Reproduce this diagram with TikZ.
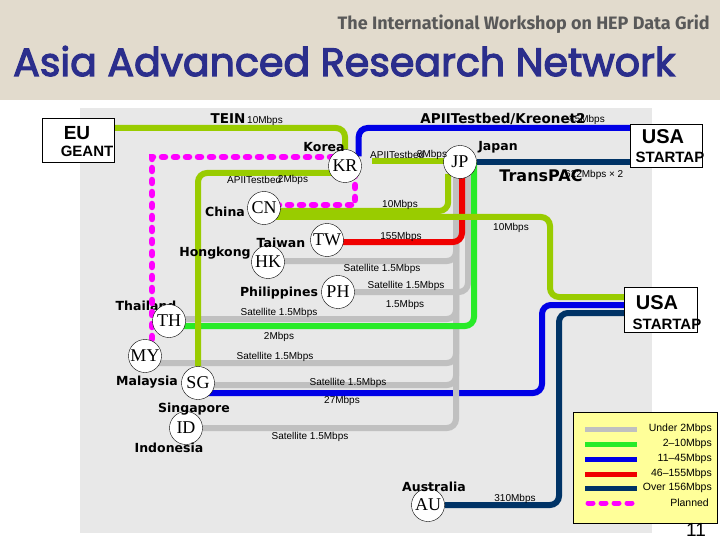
\documentclass[tikz,border=0pt]{standalone}
\usepackage{fontspec}
\setmainfont{Liberation Sans}
\newfontfamily\cntfont{DejaVu Sans}
\newfontfamily\cirfont{Liberation Serif}
\newfontfamily\ttlfont[FakeBold=3]{Poppins}
\newfontfamily\subfont{Fira Sans}
\usepackage{graphicx}
\usetikzlibrary{backgrounds}
\newcommand{\sz}[1]{\fontsize{#1}{#1}\selectfont}
\definecolor{yg}{RGB}{153,204,0}
\definecolor{lg}{RGB}{40,235,40}
\definecolor{bl}{RGB}{0,0,230}
\definecolor{rd}{RGB}{240,0,0}
\definecolor{nv}{RGB}{0,51,102}
\definecolor{gr}{RGB}{192,192,192}
\definecolor{mg}{RGB}{255,0,255}
\definecolor{panel}{RGB}{232,232,232}
\definecolor{linen}{RGB}{226,219,205}
\definecolor{ttl}{RGB}{43,46,140}
\definecolor{legbg}{RGB}{255,255,153}

\begin{document}
\begin{tikzpicture}[x=1pt, y=-1pt,
    ctry/.style={circle, draw=black, fill=white, minimum size=33pt, inner sep=0pt,
                 font=\cirfont\sz{18}},
    cname/.style={font=\cntfont\bfseries\sz{12.5}, inner sep=0pt},
    rate/.style={font=\sz{10}, inner sep=0pt},
    hub/.style={draw=black, fill=white, inner sep=0pt},
    lnk/.style={line width=6pt, rounded corners=9pt},
    plan/.style={draw=mg, line width=6.5pt, line cap=round, dash pattern=on 3pt off 9pt},
    leg/.style={font=\sz{10.5}, inner sep=0pt, anchor=east}
  ]
  \useasboundingbox (0,0) rectangle (720,540);

  % title
  \node[font=\subfont\bfseries, text=black!65, anchor=base west, inner sep=0pt] (sub) at (337.5,30)
    {\resizebox{372pt}{!}{The International Workshop on HEP Data Grid}};
  \node[font=\ttlfont, text=ttl, anchor=base west, inner sep=0pt] (title) at (13,76)
    {\resizebox{662pt}{!}{Asia Advanced Research Network}};

  % hubs
  \node[hub, minimum width=72pt, minimum height=44pt] (eu) at (78,140) {};
  \node[font=\bfseries\sz{19}, inner sep=0pt] (eulbl) at (77,133) {EU};
  \node[font=\bfseries\sz{15}, inner sep=0pt] (geant) at (87,151) {GEANT};
  \node[hub, minimum width=72pt, minimum height=43pt] (usa1) at (666,145.5) {};
  \node[font=\bfseries\sz{20}, inner sep=0pt] (usa1lbl) at (663,137) {USA};
  \node[font=\bfseries\sz{15}, inner sep=0pt] (usa1tap) at (670,157) {STARTAP};
  \node[hub, minimum width=73pt, minimum height=45pt] (usa2) at (660.5,309.5) {};
  \node[font=\bfseries\sz{20}, inner sep=0pt] (usa2lbl) at (657,303) {USA};
  \node[font=\bfseries\sz{15}, inner sep=0pt] (usa2tap) at (667,324) {STARTAP};

  % countries
  \node[ctry] (KR) at (345,166) {KR};
  \node[ctry] (JP) at (460,162) {JP};
  \node[ctry] (CN) at (264,208) {CN};
  \node[ctry] (TW) at (327,240) {TW};
  \node[ctry] (HK) at (268,262) {HK};
  \node[ctry] (PH) at (338,292) {PH};
  \node[ctry] (TH) at (169,321) {TH};
  \node[ctry] (MY) at (145,356) {MY};
  \node[ctry] (SG) at (198,383) {SG};
  \node[ctry] (ID) at (186,428) {ID};
  \node[ctry] (AU) at (428,505) {AU};
  \coordinate (kjp) at (372,161);

  \node[cname] (korea) at (324,147) {Korea};
  \node[cname] (japan) at (498,147) {Japan};
  \node[cname] (china) at (225,212) {China};
  \node[cname] (taiwan) at (281,243) {Taiwan};
  \node[cname] (hongkong) at (215,253) {Hongkong};
  \node[cname] (philippines) at (279,293) {Philippines};
  \node[cname] (malaysia) at (147,382) {Malaysia};
  \node[cname] (singapore) at (194,409) {Singapore};
  \node[cname] (indonesia) at (169,448) {Indonesia};
  \node[cname] (australia) at (434,487) {Australia};

  % link labels
  \node[font=\cntfont\bfseries\sz{13.5}, inner sep=0pt] (tein) at (228,119) {TEIN};
  \node[rate] (teinr) at (265,121) {10Mbps};
  \node[font=\cntfont\bfseries\sz{13.5}, inner sep=0pt] (kreo) at (503,119) {APIITestbed/Kreonet2};
  \node[rate] (kreor) at (587,120) {45Mbps};
  \node[rate, anchor=west] (apii8) at (370,155) {APIITestbed};
  \node[rate] (apii8r) at (432,155) {8Mbps};
  \node[rate, anchor=west] (apii2) at (227,180) {APIITestbed};
  \node[rate] (apii2r) at (293,180) {2Mbps};
  \node[font=\cntfont\bfseries\sz{16}, inner sep=0pt] (transpac) at (541,176) {TransPAC};
  \node[rate, anchor=west] (transpacr) at (565,175) {622Mbps × 2};
  \node[rate] (cnjp) at (400,205) {10Mbps};
  \node[rate] (cnus) at (511,228) {10Mbps};
  \node[rate] (twjp) at (401,237) {155Mbps};
  \node[rate] (hkjp) at (382,269) {Satellite 1.5Mbps};
  \node[rate] (phjp) at (406,286) {Satellite 1.5Mbps};
  \node[rate] (phjp2) at (405,305) {1.5Mbps};
  \node[rate] (thjp) at (279,313) {Satellite 1.5Mbps};
  \node[rate] (thjp2) at (279,337) {2Mbps};
  \node[rate] (myjp) at (275,357) {Satellite 1.5Mbps};
  \node[rate] (sgjp) at (348,383) {Satellite 1.5Mbps};
  \node[rate] (sgus) at (342,401) {27Mbps};
  \node[rate] (idjp) at (310,437) {Satellite 1.5Mbps};
  \node[rate] (auus) at (515,499) {310Mbps};

  % legend
  \node[draw=black, fill=legbg, minimum width=144pt, minimum height=111pt, inner sep=0pt] (legend) at (645,467.5) {};
  \foreach \c/\t/\yy in {gr/Under 2Mbps/429, lg/2–10Mbps/444, bl/11–45Mbps/459,
                         rd/46–155Mbps/474, nv/Over 156Mbps/488} {
    \draw[\c, line width=5pt] (585,\yy) -- (637,\yy);
    \node[leg] at (712,\yy) {\t};
  }
  \draw[mg, line width=5pt, line cap=round, dash pattern=on 5pt off 8pt] (588,503) -- (637,503);
  \node[leg] (legplan) at (709,503) {Planned};

  \node[font=\sz{19}, inner sep=0pt] (pg) at (696,530) {11};

  \begin{scope}[on background layer]
    \fill[linen] (0,0) rectangle (720,100);
    \fill[panel] (80,108) rectangle (652,533);
    \node[cname] (thailand) at (146,306) {Thailand};
    % links
    \draw[lnk, bl] (SG.center |- 0,393) -| (542,305) -- (usa2.west |- 0,305);
    \draw[lnk, gr] (HK.center |- 0,261) -| ([xshift=-4pt]JP.center);
    \draw[lnk, gr] (PH) -| ([xshift=8pt]JP.center);
    \draw[lnk, gr] (TH.center |- 0,319) -| ([xshift=-4pt]JP.center);
    \draw[lnk, gr] (MY.center |- 0,363) -| ([xshift=-4pt]JP.center);
    \draw[lnk, gr] (SG.center |- 0,385) -| ([xshift=-4pt]JP.center);
    \draw[lnk, gr] (ID) -| ([xshift=-4pt]JP.center);
    \draw[lnk, lg] (TH.center |- 0,326) -| ([xshift=14pt]JP.center);
    \draw[lnk, rd] (TW.center |- 0,242) -| ([xshift=2pt]JP.center);
    \draw[lnk, yg] (eu.east |- 0,128) -| (KR);
    \draw[lnk, bl] (KR.35) |- (usa1.west |- 0,128);
    \draw[lnk, nv] (JP) -- (JP -| usa1.west);
    \draw[lnk, yg] (kjp) -- (kjp -| JP);
    \draw[lnk, yg] (CN.center |- 0,211) -| (JP.south west);
    \draw[lnk, yg] (CN.center |- 0,217) -| (550,297) -- (usa2.west |- 0,297);
    \draw[lnk, yg] (KR.center |- 0,173) -| (SG);
    \draw[lnk, nv] (AU) -| (559,313) -- (usa2.west |- 0,313);
    \draw[plan] (KR.center |- 0,157) -| (152,345);
    \draw[plan] (CN.center |- 0,205) -| ([xshift=10pt]KR.center);
  \end{scope}
\end{tikzpicture}
\end{document}
